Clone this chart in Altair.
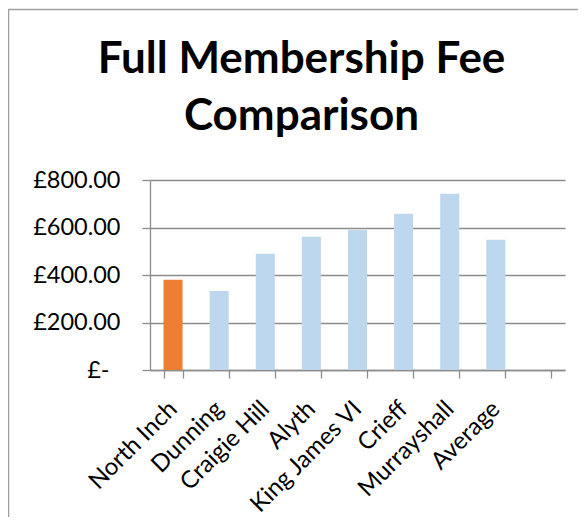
import altair as alt
import pandas as pd

clubs = ["North Inch", "Dunning", "Craigie Hill", "Alyth", "King James VI",
         "Crieff", "Murrayshall", "Average"]
fees = [380, 333, 489, 561, 590, 658, 742, 548]
highlight = ["yes", "no", "no", "no", "no", "no", "no", "no"]
x_domain = clubs + [" "]
y_ticks = [0, 200, 400, 600, 800]

df = pd.DataFrame({"club": clubs, "fee": fees, "hl": highlight})

FONT = "Lato"
GRAY = "#8C8C8C"

bars = alt.Chart(df).mark_bar().encode(
    x=alt.X("club:N", sort=x_domain,
            scale=alt.Scale(domain=x_domain, paddingInner=0.587, paddingOuter=0.293),
            axis=alt.Axis(title=None, labelAngle=-45, labelAlign="right",
                          labelBaseline="middle", labelFontSize=24, labelFont=FONT,
                          labelColor="#000000", labelPadding=27,
                          tickBand="extent", tickSize=8, tickColor=GRAY,
                          domainColor=GRAY, domainWidth=1.3, tickWidth=1.3,
                          labelOverlap=False, labelLimit=0)),
    y=alt.Y("fee:Q", scale=alt.Scale(domain=[0, 800], nice=False),
            axis=alt.Axis(title=None, values=y_ticks,
                          labelExpr="datum.value == 0 ? '£-' : '£' + format(datum.value, ',.2f')",
                          labelFontSize=23.5, labelFont=FONT, labelColor="#000000",
                          labelPadding={"condition": {"test": "datum.value == 0", "value": 33},
                                        "value": 22},
                          tickSize=8, tickColor=GRAY, tickWidth=1.3,
                          grid=True, gridColor=GRAY, gridWidth=1.3,
                          domainColor=GRAY, domainWidth=1.3)),
    color=alt.Color("hl:N", scale=alt.Scale(domain=["yes", "no"],
                                             range=["#ED7D31", "#BDD7EE"]),
                    legend=None),
)

frame = alt.Chart(pd.DataFrame({"a": [0]})).mark_rect(
    fill=None, stroke="#A0A0A0", strokeWidth=1.5
).encode(x=alt.value(-141.5), y=alt.value(-170.5), x2=alt.value(700), y2=alt.value(700))

chart = alt.layer(frame, bars).properties(
    width=415, height=190,
    autosize=alt.AutoSizeParams(type="none"),
    padding={"left": 142, "top": 172, "right": 13, "bottom": 147},
    title=alt.TitleParams(["Full Membership Fee", "Comparison"], font=FONT,
                          fontSize=44, fontWeight="bold", color="#000000",
                          anchor="middle", frame="group", lineHeight=57,
                          offset=0, baseline="alphabetic", dy=165, dx=-56),
).configure_view(stroke=None)

chart.save("out.html", embed_options={"renderer": "svg", "actions": False})
